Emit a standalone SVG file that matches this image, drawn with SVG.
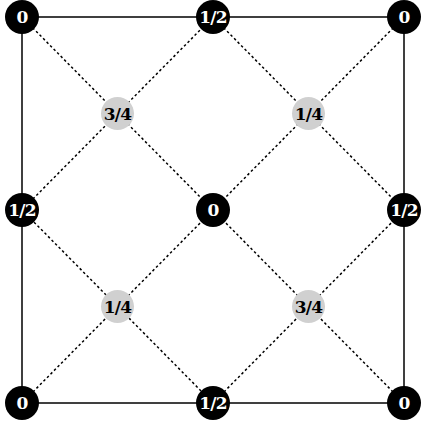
<svg xmlns="http://www.w3.org/2000/svg" width="422" height="423" viewBox="0 0 422 423">
<style>
.solid{stroke:#000;stroke-width:1.5;fill:none}
.dot{stroke:#000;stroke-width:1.5;stroke-dasharray:2.5 2.5;fill:none}
.b circle{fill:#000}
.g circle{fill:#d0d0d0}
text{font-family:"DejaVu Serif","Liberation Serif",serif;font-weight:bold;font-size:17px;text-anchor:middle;dominant-baseline:central;letter-spacing:-0.8px}
.b text{fill:#fff}
.g text{fill:#000}
</style>
<rect width="422" height="423" fill="#fff"/>
<g id="connectors">
<rect class="solid" x="22" y="17" width="382" height="386"/>
<line class="dot" x1="22" y1="17" x2="404" y2="403"/>
<line class="dot" x1="404" y1="17" x2="22" y2="403"/>
<polygon class="dot" points="213,17 404,210 213,403 22,210"/>
</g>
<g id="n1" class="b"><circle cx="22" cy="17" r="17"/><text x="22" y="17">0</text></g>
<g id="n2" class="b"><circle cx="213" cy="17" r="17"/><text x="213" y="17">1/2</text></g>
<g id="n3" class="b"><circle cx="404" cy="17" r="17"/><text x="404" y="17">0</text></g>
<g id="n4" class="b"><circle cx="22" cy="210" r="17"/><text x="22" y="210">1/2</text></g>
<g id="n5" class="b"><circle cx="213" cy="210" r="17"/><text x="213" y="210">0</text></g>
<g id="n6" class="b"><circle cx="404" cy="210" r="17"/><text x="404" y="210">1/2</text></g>
<g id="n7" class="b"><circle cx="22" cy="403" r="17"/><text x="22" y="403">0</text></g>
<g id="n8" class="b"><circle cx="213" cy="403" r="17"/><text x="213" y="403">1/2</text></g>
<g id="n9" class="b"><circle cx="404" cy="403" r="17"/><text x="404" y="403">0</text></g>
<g id="g1" class="g"><circle cx="117.5" cy="113.5" r="16.5"/><text x="117.5" y="113.5">3/4</text></g>
<g id="g2" class="g"><circle cx="308.5" cy="113.5" r="16.5"/><text x="308.5" y="113.5">1/4</text></g>
<g id="g3" class="g"><circle cx="117.5" cy="306.5" r="16.5"/><text x="117.5" y="306.5">1/4</text></g>
<g id="g4" class="g"><circle cx="308.5" cy="306.5" r="16.5"/><text x="308.5" y="306.5">3/4</text></g>
</svg>
